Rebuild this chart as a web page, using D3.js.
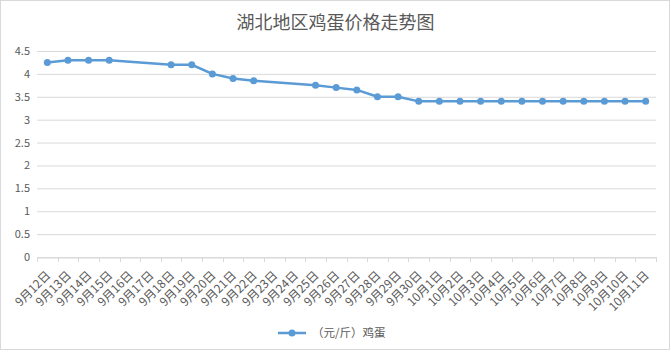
<!DOCTYPE html>
<html lang="zh">
<head>
<meta charset="UTF-8">
<title>湖北地区鸡蛋价格走势图</title>
<script src="https://d3js.org/d3.v7.min.js"></script>
<style>
  body { margin: 0; background: #fff; }
  svg text { font-family: "Noto Sans CJK SC", "DejaVu Sans", sans-serif; fill: #595959; }
</style>
</head>
<body>
<div id="chart"></div>
<script>
// data
const dates = ['9月12日','9月13日','9月14日','9月15日','9月16日','9月17日','9月18日','9月19日','9月20日','9月21日',
  '9月22日','9月23日','9月24日','9月25日','9月26日','9月27日','9月28日','9月29日','9月30日','10月1日',
  '10月2日','10月3日','10月4日','10月5日','10月6日','10月7日','10月8日','10月9日','10月10日','10月11日'];
const eggPrice = [4.25, 4.3, 4.3, 4.3, null, null, 4.2, 4.2, 4.0, 3.9,
  3.85, null, null, 3.75, 3.7, 3.65, 3.5, 3.5, 3.4, 3.4,
  3.4, 3.4, 3.4, 3.4, 3.4, 3.4, 3.4, 3.4, 3.4, 3.4];
const yTicks = [0, 0.5, 1, 1.5, 2, 2.5, 3, 3.5, 4, 4.5];
const seriesName = '（元/斤）鸡蛋';

const W = 671, H = 352;
const margin = { top: 51, right: 15, bottom: 95, left: 37 };
const width = W - margin.left - margin.right;
const height = H - margin.top - margin.bottom;

const svg = d3.select('#chart').append('svg')
  .attr('width', W).attr('height', H);

// outer border
svg.append('rect')
  .attr('x', 0.5).attr('y', 0.5)
  .attr('width', W - 2).attr('height', H - 3)
  .attr('fill', '#fff').attr('stroke', '#d9d9d9');

svg.append('text')
  .attr('x', W / 2).attr('y', 29)
  .attr('text-anchor', 'middle')
  .style('font-size', '18px')
  .text('湖北地区鸡蛋价格走势图');

const g = svg.append('g').attr('transform', `translate(${margin.left},${margin.top})`);

const x = d3.scaleBand().domain(dates).range([0, width]);
const y = d3.scaleLinear().domain([0, 4.5]).range([height, 0]);

// gridlines
g.selectAll('.grid').data(yTicks).enter().append('line')
  .attr('x1', 0).attr('x2', width)
  .attr('y1', d => y(d) + 0.5).attr('y2', d => y(d) + 0.5)
  .attr('stroke', '#d9d9d9');

// y labels
g.selectAll('.ylab').data(yTicks).enter().append('text')
  .attr('x', -7).attr('y', d => y(d) + 4)
  .attr('text-anchor', 'end')
  .style('font-size', '11px')
  .text(d => d);

// x axis
const xAxis = g.append('g')
  .attr('transform', `translate(0,${height + 0.5})`)
  .call(d3.axisBottom(x).tickSize(0).tickFormat(''));
xAxis.select('.domain').attr('stroke', '#d9d9d9');
const tickPos = d3.range(dates.length + 1).map(i => i * x.step());
g.selectAll('.xtick').data(tickPos).enter().append('line')
  .attr('x1', d => Math.round(d) + 0.5).attr('x2', d => Math.round(d) + 0.5)
  .attr('y1', height).attr('y2', height + 5)
  .attr('stroke', '#d9d9d9');

g.selectAll('.xlab').data(dates).enter().append('text')
  .attr('transform', d => `translate(${x(d) + x.bandwidth() / 2 + 4},${height + 19}) rotate(-45)`)
  .attr('text-anchor', 'end')
  .style('font-size', '12px')
  .text(d => d);

// line
const pts = dates.map((d, i) => ({ d, v: eggPrice[i] })).filter(p => p.v != null);
const color = '#5b9bd5';
g.append('path')
  .datum(pts)
  .attr('fill', 'none')
  .attr('stroke', color)
  .attr('stroke-width', 2.5)
  .attr('stroke-linejoin', 'round')
  .attr('d', d3.line().x(p => x(p.d) + x.bandwidth() / 2).y(p => y(p.v)));

g.selectAll('.pt').data(pts).enter().append('circle')
  .attr('cx', p => x(p.d) + x.bandwidth() / 2)
  .attr('cy', p => y(p.v))
  .attr('r', 3.5)
  .attr('fill', color);

// legend
const lg = svg.append('g').attr('transform', 'translate(278,333)');
lg.append('line').attr('x1', 0).attr('x2', 28).attr('y1', 0).attr('y2', 0)
  .attr('stroke', color).attr('stroke-width', 2.5);
lg.append('circle').attr('cx', 14).attr('cy', 0).attr('r', 3.5).attr('fill', color);
lg.append('text').attr('x', 34).attr('y', 4)
  .style('font-size', '11.5px')
  .text(seriesName);
</script>
</body>
</html>
